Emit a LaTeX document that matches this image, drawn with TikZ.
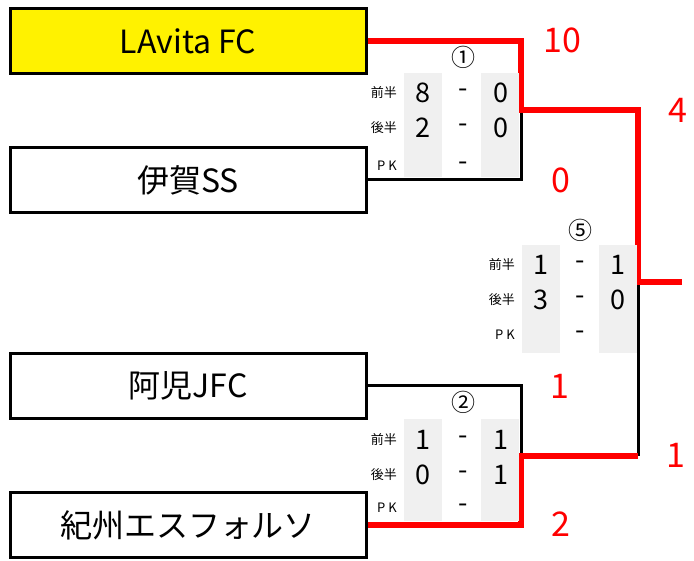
\documentclass[tikz,border=0pt]{standalone}
\usepackage{fontspec}
\usepackage{xcolor}
\usepackage{tikz}
\newfontfamily\jpfont{Noto Sans CJK JP}

\begin{document}
\begin{tikzpicture}%
                [x=1pt,
                y=-1pt,
                team/.style={draw=black, line width=3pt, minimum width=356pt, minimum height=65pt, inner sep=0pt, font=\jpfont\fontsize{32}{32}\selectfont},
                winner/.style={fill=yellow},
                win/.style={color=red, line width=6pt},
                lose/.style={color=black, line width=3pt},
                goalcol/.style={fill=black!6, inner sep=0pt, minimum width=38pt},
                half/.style={anchor=east, inner sep=0pt, font=\jpfont\fontsize{13}{13}\selectfont},
                goal/.style={inner sep=0pt, font=\jpfont\fontsize{27}{27}\selectfont},
                matchno/.style={inner sep=0pt, font=\jpfont\fontsize{24}{24}\selectfont},
                total/.style={inner sep=0pt, color=red, font=\jpfont\fontsize{34}{34}\selectfont}]
            %
            \useasboundingbox (0,0) rectangle (694,561);
            %
            %% Teams
            \node[team, winner] (lavita) at (188,41) {LAvita FC};
            \node[team] (iga) at (188,180) {伊賀SS};
            \node[team] (ago) at (188,386) {阿児JFC};
            \node[team] (kishu) at (188,525) {紀州エスフォルソ};
            %%
            %% Meeting points of the bracket
            \coordinate (m1) at (521,110);
            \coordinate (m2) at (521,456);
            \coordinate (m2r) at (638,456);
            \coordinate (m5) at (638,282);
            \coordinate (champ) at (682,282);
            %%
            %% Drawing the bracket
            \draw[lose] (iga.east) -| (m1);
            \draw[lose] (ago.east) -| (m2);
            \draw[lose] (m2r) -- (m5);
            \draw[win] (kishu.east) -| (m2) -- (m2r);
            \draw[win] (lavita.east) -| (m1) -| (m5) -- (champ);
            %%
            %% Match 1
            \node[goalcol, minimum height=104pt] (m1colA) at (423,125) {};
            \node[goalcol, minimum height=104pt] (m1colB) at (500,125) {};
            \node[matchno] (m1no) at (463,57) {①};
            \node[half] (m1h1) at (397,93) {前半};
            \node[half] (m1h2) at (397,128) {後半};
            \node[half] (m1pk) at (397,166) {P\hspace{3pt}K};
            \node[goal] (m1a1) at (423,93) {8};
            \node[goal] (m1d1) at (463,93) {-};
            \node[goal] (m1b1) at (501,93) {0};
            \node[goal] (m1a2) at (423,128) {2};
            \node[goal] (m1d2) at (463,128) {-};
            \node[goal] (m1b2) at (501,128) {0};
            \node[goal] (m1d3) at (463,166) {-};
            %%
            %% Match 2
            \node[goalcol, minimum height=101pt] (m2colA) at (423,470) {};
            \node[goalcol, minimum height=101pt] (m2colB) at (500,470) {};
            \node[matchno] (m2no) at (463,402) {②};
            \node[half] (m2h1) at (397,440) {前半};
            \node[half] (m2h2) at (397,475) {後半};
            \node[half] (m2pk) at (397,508) {P\hspace{3pt}K};
            \node[goal] (m2a1) at (423,440) {1};
            \node[goal] (m2d1) at (463,440) {-};
            \node[goal] (m2b1) at (501,440) {1};
            \node[goal] (m2a2) at (423,475) {0};
            \node[goal] (m2d2) at (463,475) {-};
            \node[goal] (m2b2) at (501,475) {1};
            \node[goal] (m2d3) at (463,508) {-};
            %%
            %% Match 5
            \node[goalcol, minimum height=108pt] (m5colA) at (541,299) {};
            \node[goalcol, minimum height=108pt] (m5colB) at (618,299) {};
            \node[matchno] (m5no) at (580,230) {⑤};
            \node[half] (m5h1) at (515,265) {前半};
            \node[half] (m5h2) at (515,300) {後半};
            \node[half] (m5pk) at (515,335) {P\hspace{3pt}K};
            \node[goal] (m5a1) at (541,265) {1};
            \node[goal] (m5d1) at (580,265) {-};
            \node[goal] (m5b1) at (618,265) {1};
            \node[goal] (m5a2) at (541,300) {3};
            \node[goal] (m5d2) at (580,300) {-};
            \node[goal] (m5b2) at (618,300) {0};
            \node[goal] (m5d3) at (580,335) {-};
            %%
            %% Totals
            \node[total] (t1a) at (562,40) {10};
            \node[total] (t1b) at (561,180) {0};
            \node[total] (t2a) at (560,386) {1};
            \node[total] (t2b) at (561,524) {2};
            \node[total] (t5a) at (678,110) {4};
            \node[total] (t5b) at (676,455) {1};
            %%
\end{tikzpicture}
\end{document}
